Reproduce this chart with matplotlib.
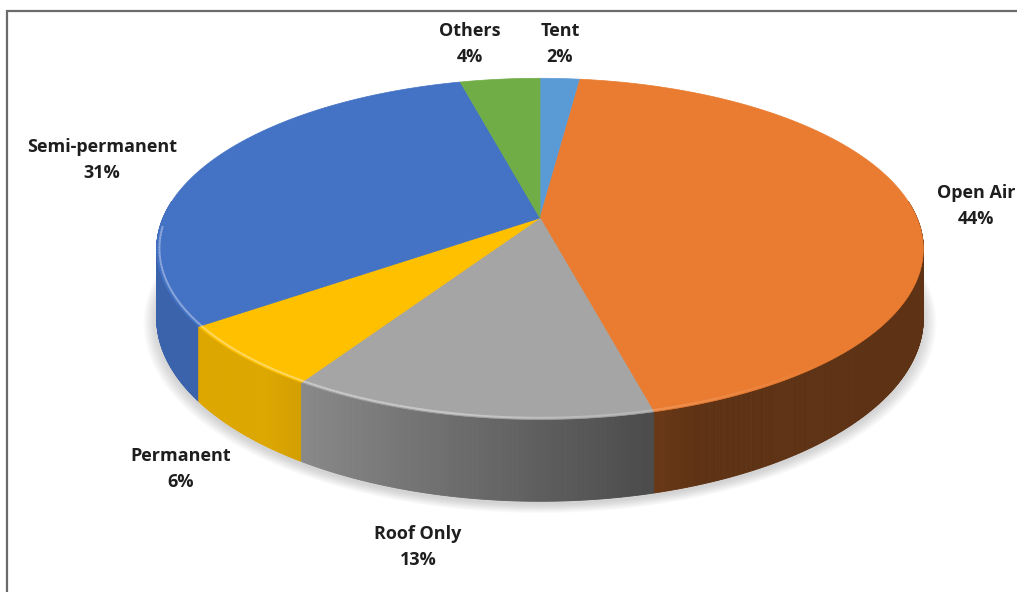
import numpy as np
import matplotlib
matplotlib.use('Agg')
from matplotlib import pyplot as plt
from matplotlib.collections import PolyCollection, LineCollection
from matplotlib.colors import to_rgb

# shelter types, clockwise from 12 o'clock
labels = ['Tent', 'Open Air', 'Roof Only', 'Permanent', 'Semi-permanent', 'Others']
shares = [2, 44, 13, 6, 31, 4]
colors = ['#5B9BD5', '#EA7C31', '#A5A5A5', '#FFC000', '#4472C4', '#70AD47']

# where each two-line label sits (centre of the name line, pixels)
label_xy = [(560, 31), (976, 193), (418, 534), (181, 456), (102, 147), (470, 31)]

# tilted disc seen in perspective
cx, cy = 540, 218
A, B, k = 377, 165, 0.181
T = 67   # thickness of the pie


def project(theta, r=1.0):
    u = r * np.sin(theta)
    v = r * np.cos(theta)
    w = 1 + k * v
    return cx + A * u / w, cy - B * v / w, w


plt.rcParams['font.family'] = ['Open Sans', 'DejaVu Sans']
fig = plt.figure(figsize=(10.17, 5.92), dpi=100)
ax = fig.add_axes([0, 0, 1, 1])
ax.set_xlim(0, 1017)
ax.set_ylim(592, 0)
ax.axis('off')

# chart frame
ax.plot([6.5, 6.5, 1017], [592, 10.5, 10.5], color='#6b6b6b', lw=1.6,
        solid_joinstyle='miter', zorder=1)

edges = np.deg2rad(np.concatenate([[0], np.cumsum(shares)]) * 3.6)
full = np.linspace(0, 2 * np.pi, 721)

# soft shadow under the pie
for i in range(12):
    r = 1.0 + 0.003 * i
    x, y, w = project(full, r)
    ax.fill(x, y + T / w + 3, color='#808080', alpha=0.03, lw=0, zorder=2)

# side walls, shaded by which way they face
quads, qcols, qdepth = [], [], []
for a0, a1, c in zip(edges[:-1], edges[1:], colors):
    t = np.linspace(a0, a1, max(int(np.degrees(a1 - a0) * 4), 2))
    x, y, w = project(t)
    base = np.array(to_rgb(c))
    for j in range(len(t) - 1):
        if np.cos(t[j]) > 0.1 and np.cos(t[j + 1]) > 0.1:
            continue
        quads.append([(x[j], y[j]), (x[j + 1], y[j + 1]),
                      (x[j + 1], y[j + 1] + T / w[j + 1]), (x[j], y[j] + T / w[j])])
        tm = 0.5 * (t[j] + t[j + 1])
        f = np.clip(0.57 - 0.484 * np.sin(tm), 0.40, 0.87)
        qcols.append(base * f)
        qdepth.append(np.cos(tm))
order = np.argsort(qdepth)[::-1]
sides = PolyCollection([quads[i] for i in order], facecolors=[qcols[i] for i in order],
                       edgecolors=[qcols[i] for i in order], linewidths=0.6, zorder=3)
ax.add_collection(sides)

# top faces
for a0, a1, c in zip(edges[:-1], edges[1:], colors):
    t = np.linspace(a0, a1, max(int(np.degrees(a1 - a0) * 2), 2))
    x, y, w = project(t)
    ax.fill(np.concatenate([[cx], x]), np.concatenate([[cy], y]),
            facecolor=c, edgecolor=c, lw=0.5, zorder=4)

# bevel highlight along the front rim
segs, scols = [], []
for a0, a1, c in zip(edges[:-1], edges[1:], colors):
    t = np.linspace(a0, a1, max(int(np.degrees(a1 - a0) * 2), 2))
    x, y, w = project(t, 0.993)
    base = np.array(to_rgb(c))
    for j in range(len(t) - 1):
        tm = 0.5 * (t[j] + t[j + 1])
        if np.cos(tm) > -0.05:
            continue
        h = np.clip(0.3 - 0.45 * np.sin(tm), 0, 0.4)
        segs.append([(x[j], y[j]), (x[j + 1], y[j + 1])])
        scols.append(base + (1 - base) * h)
ax.add_collection(LineCollection(segs, colors=scols, linewidths=1.4, zorder=5))

# data labels
for (lx, ly), name, s in zip(label_xy, labels, shares):
    ax.text(lx, ly, name, ha='center', va='center', fontsize=13,
            fontweight='bold', color='#1e1e1e', zorder=6)
    ax.text(lx, ly + 26, f'{s}%', ha='center', va='center', fontsize=13,
            fontweight='bold', color='#1e1e1e', zorder=6)

fig.savefig('out.png', dpi=100)
